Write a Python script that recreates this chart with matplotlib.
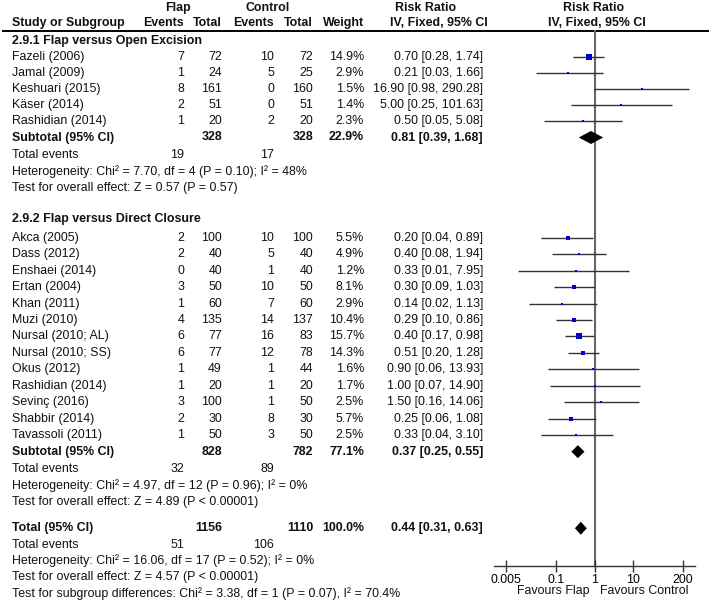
import numpy as np
import matplotlib.pyplot as plt
from matplotlib.ticker import NullLocator

plt.rcParams['font.family'] = ['Liberation Sans', 'DejaVu Sans']
FS = 8.9

# ---- data ----
g1_studies = ["Fazeli (2006)", "Jamal (2009)", "Keshuari (2015)", "Käser (2014)", "Rashidian (2014)"]
g1_flap_ev = [7, 1, 8, 2, 1]
g1_flap_n = [72, 24, 161, 51, 20]
g1_ctrl_ev = [10, 5, 0, 0, 2]
g1_ctrl_n = [72, 25, 160, 51, 20]
g1_weight = [14.9, 2.9, 1.5, 1.4, 2.3]
g1_rr = [0.70, 0.21, 16.90, 5.00, 0.50]
g1_lo = [0.28, 0.03, 0.98, 0.25, 0.05]
g1_hi = [1.74, 1.66, 290.28, 101.63, 5.08]

g2_studies = ["Akca (2005)", "Dass (2012)", "Enshaei (2014)", "Ertan (2004)", "Khan (2011)",
              "Muzi (2010)", "Nursal (2010; AL)", "Nursal (2010; SS)", "Okus (2012)",
              "Rashidian (2014)", "Sevinç (2016)", "Shabbir (2014)", "Tavassoli (2011)"]
g2_flap_ev = [2, 2, 0, 3, 1, 4, 6, 6, 1, 1, 3, 2, 1]
g2_flap_n = [100, 40, 40, 50, 60, 135, 77, 77, 49, 20, 100, 30, 50]
g2_ctrl_ev = [10, 5, 1, 10, 7, 14, 16, 12, 1, 1, 1, 8, 3]
g2_ctrl_n = [100, 40, 40, 50, 60, 137, 83, 78, 44, 20, 50, 30, 50]
g2_weight = [5.5, 4.9, 1.2, 8.1, 2.9, 10.4, 15.7, 14.3, 1.6, 1.7, 2.5, 5.7, 2.5]
g2_rr = [0.20, 0.40, 0.33, 0.30, 0.14, 0.29, 0.40, 0.51, 0.90, 1.00, 1.50, 0.25, 0.33]
g2_lo = [0.04, 0.08, 0.01, 0.09, 0.02, 0.10, 0.17, 0.20, 0.06, 0.07, 0.16, 0.06, 0.04]
g2_hi = [0.89, 1.94, 7.95, 1.03, 1.13, 0.86, 0.98, 1.28, 13.93, 14.90, 14.06, 1.08, 3.10]

sub_titles = ["2.9.1 Flap versus Open Excision", "2.9.2 Flap versus Direct Closure"]
sub_flap_n = [328, 828]
sub_ctrl_n = [328, 782]
sub_flap_ev = [19, 32]
sub_ctrl_ev = [17, 89]
sub_weight = [22.9, 77.1]
sub_rr = [0.81, 0.37]
sub_lo = [0.39, 0.25]
sub_hi = [1.68, 0.55]
sub_het = ["Heterogeneity: Chi² = 7.70, df = 4 (P = 0.10); I² = 48%",
           "Heterogeneity: Chi² = 4.97, df = 12 (P = 0.96); I² = 0%"]
sub_test = ["Test for overall effect: Z = 0.57 (P = 0.57)",
            "Test for overall effect: Z = 4.89 (P < 0.00001)"]

tot_flap_n, tot_ctrl_n = 1156, 1110
tot_flap_ev, tot_ctrl_ev = 51, 106
tot_weight = 100.0
tot_rr, tot_lo, tot_hi = 0.44, 0.31, 0.63
tot_het = "Heterogeneity: Chi² = 16.06, df = 17 (P = 0.52); I² = 0%"
tot_test = "Test for overall effect: Z = 4.57 (P < 0.00001)"
tot_sub = "Test for subgroup differences: Chi² = 3.38, df = 1 (P = 0.07), I² = 70.4%"

xticks = [0.005, 0.1, 1, 10, 200]
xtick_labels = ["0.005", "0.1", "1", "10", "200"]

groups = [
    (g1_studies, g1_flap_ev, g1_flap_n, g1_ctrl_ev, g1_ctrl_n, g1_weight, g1_rr, g1_lo, g1_hi),
    (g2_studies, g2_flap_ev, g2_flap_n, g2_ctrl_ev, g2_ctrl_n, g2_weight, g2_rr, g2_lo, g2_hi),
]

# layout (pixels)
X_NAME, X_FEV, X_FN, X_CEV, X_CN, X_W, X_RR = 12, 184, 222, 274, 313, 364, 483
W, H = 709, 609
TITLE_GAP = [16.0, 18.7]
PITCH = [16.1, 16.45]

fig = plt.figure(figsize=(W / 100, H / 100), dpi=100)
ax = fig.add_axes([0, 0, 1, 1])
ax.set_xlim(0, W)
ax.set_ylim(H, 0)
ax.axis("off")

fa = fig.add_axes([494 / W, 0, 201 / W, 1])
fa.set_xscale("log")
fa.set_xlim(1 / 410, 410)
fa.set_ylim(H, 0)
fa.patch.set_alpha(0)


def txt(x, y, s, ha="left", bold=False):
    ax.text(x, y, s, ha=ha, va="center", fontsize=FS,
            fontweight="bold" if bold else "normal", color="#111111")


def rr_str(r, lo, hi):
    return f"{r:.2f} [{lo:.2f}, {hi:.2f}]"


def diamond(y, r, lo, hi, h=6.5):
    fa.fill([lo, r, hi, r], [y, y - h, y, y + h], color="black", lw=0)


# header
txt(178, 8, "Flap", ha="center", bold=True)
txt(268, 8, "Control", ha="center", bold=True)
txt(426, 8, "Risk Ratio", ha="center", bold=True)
txt(594, 8, "Risk Ratio", ha="center", bold=True)
txt(X_NAME, 23, "Study or Subgroup", bold=True)
txt(X_FEV, 23, "Events", ha="right", bold=True)
txt(X_FN, 23, "Total", ha="right", bold=True)
txt(X_CEV, 23, "Events", ha="right", bold=True)
txt(X_CN, 23, "Total", ha="right", bold=True)
txt(X_W, 23, "Weight", ha="right", bold=True)
txt(439, 23, "IV, Fixed, 95% CI", ha="center", bold=True)
txt(597, 23, "IV, Fixed, 95% CI", ha="center", bold=True)
ax.plot([3, W], [31, 31], color="black", lw=1.4)

y = 41
for gi, (names, fev, fn, cev, cn, wt, rr, lo, hi) in enumerate(groups):
    if gi == 1:
        y += 31
    txt(X_NAME, y, sub_titles[gi], bold=True)
    y += TITLE_GAP[gi]
    for i in range(len(names)):
        txt(X_NAME, y, names[i])
        txt(X_FEV, y, str(fev[i]), ha="right")
        txt(X_FN, y, str(fn[i]), ha="right")
        txt(X_CEV, y, str(cev[i]), ha="right")
        txt(X_CN, y, str(cn[i]), ha="right")
        txt(X_W, y, f"{wt[i]:.1f}%", ha="right")
        txt(X_RR, y, rr_str(rr[i], lo[i], hi[i]), ha="right")
        fa.plot([lo[i], hi[i]], [y, y], color="#333333", lw=1.0,
                solid_capstyle="butt", clip_on=False)
        ms = max(1.8, 0.95 * np.sqrt(wt[i]))
        fa.plot([rr[i]], [y], marker="s", ms=ms, color="#0000cc", mew=0)
        y += PITCH[gi]
    txt(X_NAME, y, "Subtotal (95% CI)", bold=True)
    txt(X_FN, y, str(sub_flap_n[gi]), ha="right", bold=True)
    txt(X_CN, y, str(sub_ctrl_n[gi]), ha="right", bold=True)
    txt(X_W, y, f"{sub_weight[gi]:.1f}%", ha="right", bold=True)
    txt(X_RR, y, rr_str(sub_rr[gi], sub_lo[gi], sub_hi[gi]), ha="right", bold=True)
    diamond(y, sub_rr[gi], sub_lo[gi], sub_hi[gi])
    y += 17.8
    txt(X_NAME, y, "Total events")
    txt(X_FEV, y, str(sub_flap_ev[gi]), ha="right")
    txt(X_CEV, y, str(sub_ctrl_ev[gi]), ha="right")
    y += 16.4
    txt(X_NAME, y, sub_het[gi])
    y += 16.4
    txt(X_NAME, y, sub_test[gi])

y += 26
txt(X_NAME, y, "Total (95% CI)", bold=True)
txt(X_FN, y, str(tot_flap_n), ha="right", bold=True)
txt(X_CN, y, str(tot_ctrl_n), ha="right", bold=True)
txt(X_W, y, f"{tot_weight:.1f}%", ha="right", bold=True)
txt(X_RR, y, rr_str(tot_rr, tot_lo, tot_hi), ha="right", bold=True)
diamond(y, tot_rr, tot_lo, tot_hi)
y += 16.3
txt(X_NAME, y, "Total events")
txt(X_FEV, y, str(tot_flap_ev), ha="right")
txt(X_CEV, y, str(tot_ctrl_ev), ha="right")
y += 16.3
txt(X_NAME, y, tot_het)
y += 16.3
txt(X_NAME, y, tot_test)
y += 16.3
txt(X_NAME, y, tot_sub)

# forest axis
AXIS_Y = 566
fa.plot([1, 1], [31, AXIS_Y], color="#666666", lw=1.5, zorder=0)
for s in ["top", "left", "right"]:
    fa.spines[s].set_visible(False)
fa.spines["bottom"].set_position(("data", AXIS_Y))
fa.spines["bottom"].set_color("#333333")
fa.spines["bottom"].set_linewidth(1.0)
fa.set_yticks([])
fa.set_xticks(xticks)
fa.set_xticklabels(xtick_labels)
fa.xaxis.set_minor_locator(NullLocator())
fa.tick_params(axis="x", direction="inout", length=8, width=1.0,
               color="#333333", pad=1.5, labelsize=FS)

txt(553, 591, "Favours Flap", ha="center")
txt(644, 591, "Favours Control", ha="center")

fig.savefig("out.png", dpi=100)
